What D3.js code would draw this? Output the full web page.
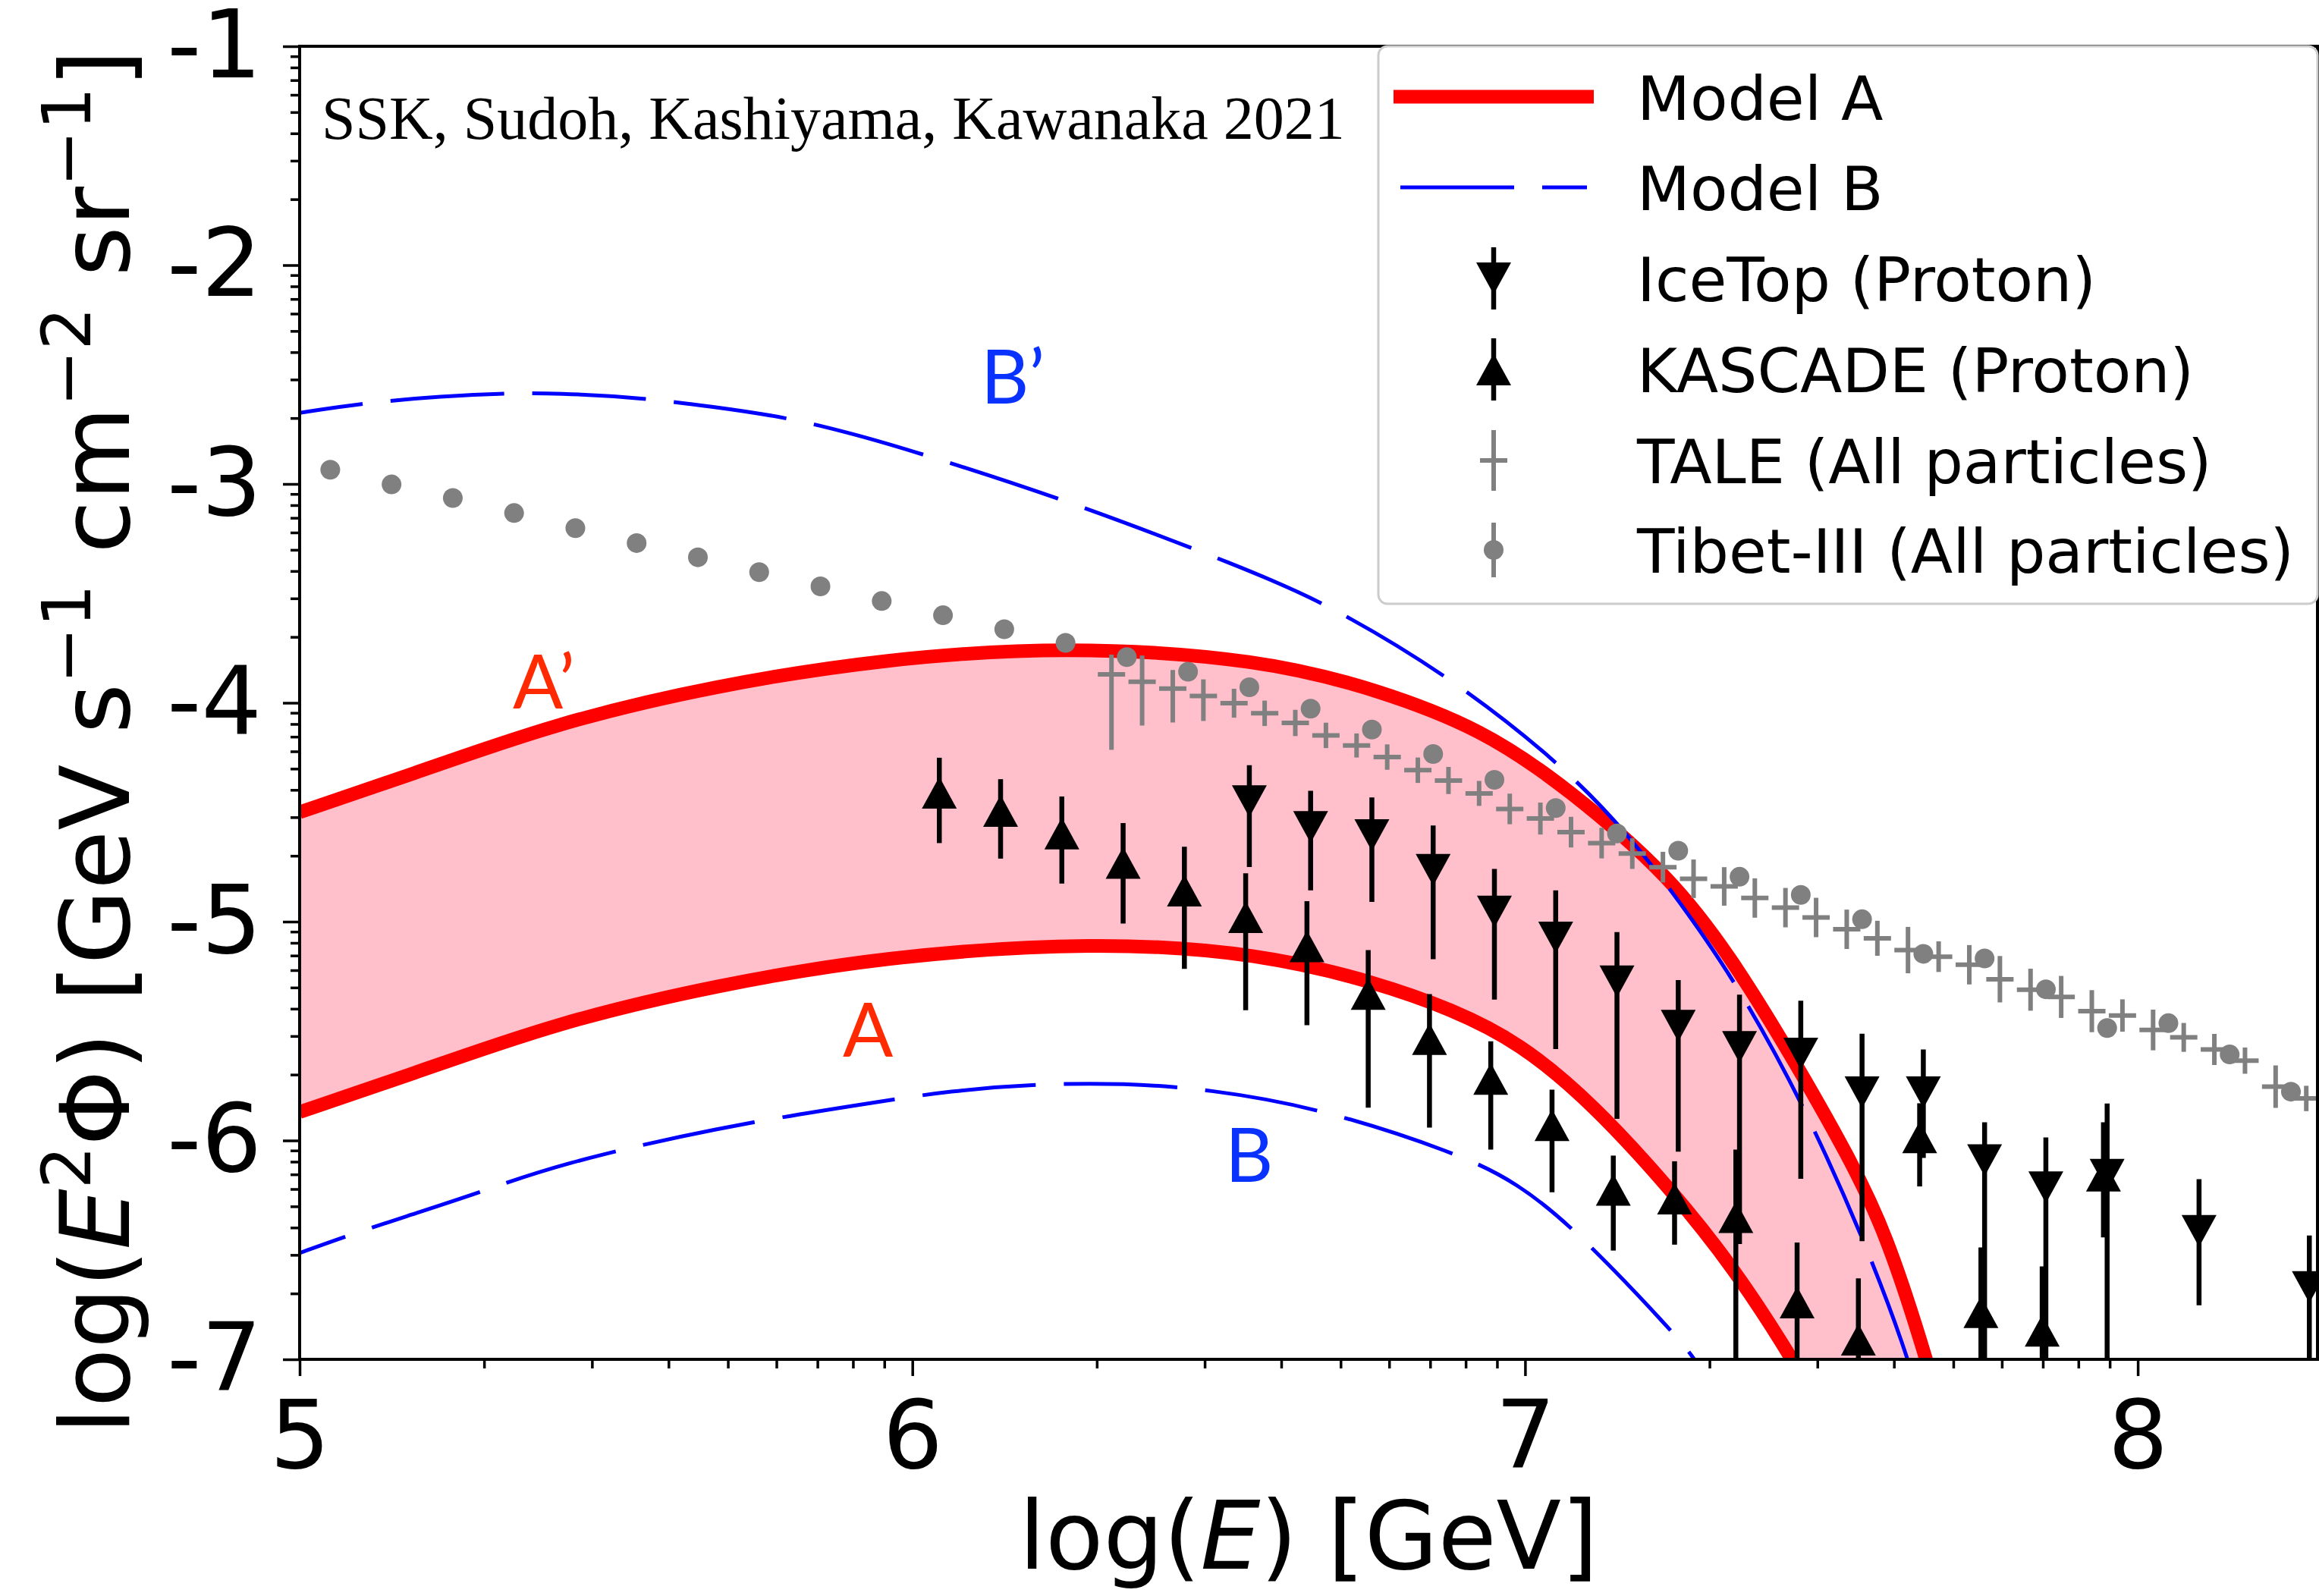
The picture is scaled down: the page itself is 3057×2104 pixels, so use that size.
<!DOCTYPE html>
<html>
<head>
<meta charset="utf-8">
<script src="https://cdn.jsdelivr.net/npm/d3@7"></script>
<style>
  body { margin: 0; background: #fff; }
  svg { display: block; }
  text { white-space: pre; }
</style>
</head>
<body>
<svg id="chart" width="3057" height="2104"></svg>
<script>
// ---------------- data ----------------
// Model A band: upper edge (A') and lower edge (A), log10(E2 Phi) vs log10(E/GeV)
const modelAUpperX = [5.0, 5.17, 5.42, 5.68, 5.95, 6.25, 6.57, 6.76, 6.93, 7.07, 7.24, 7.34, 7.43, 7.53, 7.59, 7.65, 7.68];
const modelAUpperY = [-4.50, -4.34, -4.09, -3.92, -3.80, -3.74, -3.80, -3.94, -4.12, -4.39, -4.80, -5.18, -5.59, -6.08, -6.43, -6.95, -7.25];
const modelALowerX = [5.0, 5.17, 5.42, 5.68, 5.95, 6.3, 6.57, 6.76, 6.88, 6.99, 7.11, 7.24, 7.34, 7.43, 7.46];
const modelALowerY = [-5.87, -5.71, -5.46, -5.29, -5.16, -5.09, -5.145, -5.28, -5.40, -5.55, -5.83, -6.23, -6.58, -6.97, -7.12];

// Model B: upper (B') and lower (B) curves
const modelBUpperX = [5.0, 5.108, 5.234, 5.335, 5.423, 5.55, 5.676, 5.796, 5.897, 5.972, 6.25, 6.543, 6.673, 6.874, 7.055, 7.167, 7.274, 7.356, 7.457, 7.558, 7.621, 7.64];
const modelBUpperY = [-2.675, -2.629, -2.599, -2.585, -2.585, -2.604, -2.647, -2.696, -2.767, -2.824, -3.07, -3.386, -3.541, -3.873, -4.27, -4.592, -4.99, -5.334, -5.848, -6.484, -6.96, -7.15];
const modelBLowerX = [5.0, 5.074, 5.17, 5.295, 5.42, 5.68, 5.935, 6.061, 6.206, 6.345, 6.484, 6.667, 6.888, 6.986, 7.084, 7.241, 7.274, 7.30];
const modelBLowerY = [-6.514, -6.439, -6.35, -6.237, -6.11, -5.94, -5.827, -5.773, -5.741, -5.738, -5.765, -5.853, -6.057, -6.19, -6.41, -6.874, -6.987, -7.1];

// IceTop (proton)
const iceTopX   = [6.55, 6.65, 6.75, 6.85, 6.95, 7.05, 7.15, 7.25, 7.35, 7.45, 7.55, 7.65, 7.75, 7.85, 7.95, 8.10, 8.28];
const iceTopY   = [-4.45, -4.568, -4.605, -4.763, -4.954, -5.073, -5.273, -5.476, -5.573, -5.603, -5.78, -5.78, -6.09, -6.214, -6.157, -6.413, -6.67];
const iceTopUp  = [0.165, 0.166, 0.173, 0.202, 0.195, 0.216, 0.225, 0.209, 0.239, 0.242, 0.268, 0.196, 0.173, 0.228, 0.326, 0.236, 0.236];
const iceTopDn  = [0.30, 0.289, 0.305, 0.409, 0.402, 0.509, 0.628, 0.575, 0.90, 0.572, 0.68, 0.30, 1.0, 1.0, 1.0, 0.34, 0.40];

// KASCADE (proton)
const kascadeX  = [6.044, 6.144, 6.244, 6.344, 6.444, 6.544, 6.644, 6.744, 6.844, 6.944, 7.044, 7.144, 7.244, 7.344, 7.444, 7.544, 7.644, 7.744, 7.844, 7.944];
const kascadeY  = [-4.411, -4.494, -4.597, -4.731, -4.858, -4.979, -5.113, -5.33, -5.536, -5.718, -5.93, -6.225, -6.265, -6.35, -6.74, -6.91, -5.985, -6.784, -6.869, -6.16];
const kascadeUp = [0.16, 0.145, 0.169, 0.182, 0.20, 0.20, 0.207, 0.20, 0.205, 0.171, 0.162, 0.156, 0.17, 0.308, 0.274, 0.28, 0.155, 0.295, 0.294, 0.243];
const kascadeDn = [0.23, 0.218, 0.229, 0.278, 0.358, 0.426, 0.36, 0.52, 0.405, 0.324, 0.307, 0.278, 0.211, 1.0, 1.0, 1.0, 0.225, 1.0, 1.0, 0.283];

// TALE (all particles)
const taleX  = [6.325, 6.375, 6.425, 6.475, 6.525, 6.575, 6.625, 6.675, 6.725, 6.775, 6.825, 6.875, 6.925, 6.975, 7.025, 7.075, 7.125, 7.175, 7.225, 7.275,
                7.325, 7.375, 7.425, 7.475, 7.525, 7.575, 7.625, 7.675, 7.725, 7.775, 7.825, 7.875, 7.925, 7.975, 8.025, 8.075, 8.125, 8.175, 8.225, 8.275];
const taleY  = [-3.870, -3.904, -3.935, -3.969, -4.002, -4.048, -4.092, -4.149, -4.195, -4.248, -4.308, -4.355, -4.414, -4.485, -4.529, -4.591, -4.641, -4.689, -4.751, -4.804,
                -4.839, -4.892, -4.936, -4.981, -5.035, -5.076, -5.13, -5.16, -5.197, -5.263, -5.311, -5.344, -5.409, -5.429, -5.495, -5.529, -5.584, -5.635, -5.754, -5.808];
const taleUp = [0.09, 0.12, 0.085, 0.076, 0.066, 0.058, 0.06, 0.058, 0.055, 0.058, 0.058, 0.062, 0.057, 0.07, 0.073, 0.07, 0.07, 0.07, 0.07, 0.088,
                0.088, 0.09, 0.09, 0.09, 0.09, 0.08, 0.106, 0.07, 0.09, 0.106, 0.096, 0.096, 0.096, 0.074, 0.093, 0.066, 0.071, 0.06, 0.097, 0.058];
const taleDn = [0.345, 0.20, 0.155, 0.114, 0.066, 0.058, 0.06, 0.058, 0.055, 0.058, 0.058, 0.062, 0.057, 0.07, 0.073, 0.07, 0.07, 0.07, 0.07, 0.088,
                0.088, 0.09, 0.09, 0.09, 0.09, 0.08, 0.106, 0.07, 0.09, 0.106, 0.096, 0.096, 0.096, 0.074, 0.093, 0.066, 0.071, 0.06, 0.097, 0.058];

// Tibet-III (all particles)
const tibetX = [5.05, 5.15, 5.25, 5.35, 5.45, 5.55, 5.65, 5.75, 5.85, 5.95, 6.05, 6.15, 6.25, 6.35, 6.45, 6.55, 6.65, 6.75, 6.85, 6.95, 7.05,
                7.15, 7.25, 7.35, 7.45, 7.55, 7.65, 7.75, 7.85, 7.95, 8.05, 8.15, 8.25];
const tibetY = [-2.935, -3.002, -3.064, -3.133, -3.202, -3.270, -3.335, -3.403, -3.468, -3.535, -3.600, -3.664, -3.726, -3.791, -3.858, -3.929, -4.027,
                -4.122, -4.234, -4.352, -4.481, -4.597, -4.676, -4.795, -4.878, -4.989, -5.147, -5.168, -5.309, -5.486, -5.464, -5.607, -5.777];

// axes ticks and labels
const xTicks = [5, 6, 7, 8];
const yTicks = [-7, -6, -5, -4, -3, -2, -1];
const legendLabels = ["Model A", "Model B", "IceTop (Proton)", "KASCADE (Proton)", "TALE (All particles)", "Tibet-III (All particles)"];
const creditText = "SSK, Sudoh, Kashiyama, Kawanaka 2021";

// ---------------- layout ----------------
const plot = { left: 395, right: 3055, top: 61, bottom: 1792 };
const x = d3.scaleLinear().domain([5, 8.2933]).range([plot.left, plot.right]);
const y = d3.scaleLinear().domain([-7, -1]).range([plot.bottom, plot.top]);

const RED = "#ff0000", BLUE = "#0000ff", GRAY = "#808080", PINK = "#ffc0cb";
const svg = d3.select("#chart");

svg.append("defs").append("clipPath").attr("id", "plotClip")
  .append("rect")
  .attr("x", plot.left).attr("y", plot.top)
  .attr("width", plot.right - plot.left).attr("height", plot.bottom - plot.top);

const zipXY = (xs, ys) => xs.map((v, i) => [v, ys[i]]);
// smoothing B-spline through the sampled model values
const line = d3.line().x(d => x(d[0])).y(d => y(d[1])).curve(d3.curveBasis);

const data = svg.append("g").attr("clip-path", "url(#plotClip)");

// shaded band between A' and A
const upperPts = zipXY(modelAUpperX, modelAUpperY);
const lowerPts = zipXY(modelALowerX, modelALowerY);
const bandPath = line(upperPts) + "L" + line(lowerPts.slice().reverse()).slice(1) + "Z";
data.append("path").attr("d", bandPath).attr("fill", PINK).attr("stroke", "none");

// Model A edges
[upperPts, lowerPts].forEach(pts => {
  data.append("path").attr("d", line(pts))
    .attr("fill", "none").attr("stroke", RED).attr("stroke-width", 18);
});

// Model B curves (dashed)
[[zipXY(modelBUpperX, modelBUpperY), 66], [zipXY(modelBLowerX, modelBLowerY), 86]].forEach(([pts, off]) => {
  data.append("path").attr("d", line(pts))
    .attr("fill", "none").attr("stroke", BLUE).attr("stroke-width", 5)
    .attr("stroke-dasharray", "150 37").attr("stroke-dashoffset", off);
});

// marker helpers
const TRI_W = 46, TRI_H = 42;
function triPath(up) {
  const w = TRI_W / 2, h = TRI_H / 2;
  return up ? `M0,${-h}L${w},${h}L${-w},${h}Z` : `M0,${h}L${w},${-h}L${-w},${-h}Z`;
}
function drawErrTriangles(g, xs, ys, ups, dns, up) {
  const grp = g.append("g");
  xs.forEach((xv, i) => {
    grp.append("line")
      .attr("x1", x(xv)).attr("x2", x(xv))
      .attr("y1", y(ys[i] + ups[i])).attr("y2", y(ys[i] - dns[i]))
      .attr("stroke", "#000").attr("stroke-width", 6.5);
  });
  xs.forEach((xv, i) => {
    grp.append("path").attr("d", triPath(up))
      .attr("transform", `translate(${x(xv)},${y(ys[i])})`)
      .attr("fill", "#000");
  });
}

drawErrTriangles(data, iceTopX, iceTopY, iceTopUp, iceTopDn, false);
drawErrTriangles(data, kascadeX, kascadeY, kascadeUp, kascadeDn, true);

// TALE crosses
const taleG = data.append("g").attr("stroke", GRAY).attr("stroke-width", 6);
taleX.forEach((xv, i) => {
  taleG.append("line").attr("x1", x(xv)).attr("x2", x(xv))
    .attr("y1", y(taleY[i] + taleUp[i])).attr("y2", y(taleY[i] - taleDn[i]));
  taleG.append("line").attr("x1", x(xv) - 18).attr("x2", x(xv) + 18)
    .attr("y1", y(taleY[i])).attr("y2", y(taleY[i]));
});

// Tibet-III dots
data.append("g").selectAll("circle").data(tibetX).join("circle")
  .attr("cx", d => x(d)).attr("cy", (d, i) => y(tibetY[i])).attr("r", 13).attr("fill", GRAY);

// ---------------- axes ----------------
const minorX = [], minorY = [];
for (let n = 5; n <= 8; n++) for (let k = 2; k <= 9; k++) { const v = n + Math.log10(k); if (v < 8.2933) minorX.push(v); }
for (let n = -7; n <= -2; n++) for (let k = 2; k <= 9; k++) minorY.push(n + Math.log10(k));

const styleAxis = g => {
  g.select(".domain").remove();
  g.attr("font-family", "DejaVu Sans").attr("font-size", 125);
  g.selectAll("line").attr("stroke", "#000").attr("stroke-width", 3.5);
  g.selectAll("text").attr("fill", "#000");
};

svg.append("g").attr("transform", `translate(${plot.left},0)`)
  .call(d3.axisLeft(y).tickValues(minorY).tickSize(12).tickFormat(""))
  .call(styleAxis);
svg.append("g").attr("transform", `translate(${plot.left},0)`)
  .call(d3.axisLeft(y).tickValues(yTicks).tickSize(22).tickPadding(28).tickFormat(d => String(d)))
  .call(styleAxis);
svg.append("g").attr("transform", `translate(0,${plot.bottom})`)
  .call(d3.axisBottom(x).tickValues(minorX).tickSize(12).tickFormat(""))
  .call(styleAxis);
svg.append("g").attr("transform", `translate(0,${plot.bottom})`)
  .call(d3.axisBottom(x).tickValues(xTicks).tickSize(22).tickPadding(32).tickFormat(d => String(d)))
  .call(styleAxis);

// frame
svg.append("rect")
  .attr("x", plot.left).attr("y", plot.top)
  .attr("width", plot.right - plot.left).attr("height", plot.bottom - plot.top)
  .attr("fill", "none").attr("stroke", "#000").attr("stroke-width", 4);

// axis titles
const xTitle = svg.append("text").attr("x", (plot.left + plot.right) / 2).attr("y", 2068)
  .attr("text-anchor", "middle").attr("font-family", "DejaVu Sans").attr("font-size", 125).attr("fill", "#000");
xTitle.append("tspan").text("log(");
xTitle.append("tspan").attr("font-style", "italic").text("E");
xTitle.append("tspan").text(") [GeV]");

const yTitleParts = [
  { t: "log(" }, { t: "E", it: true }, { t: "2", sup: true }, { t: "Φ) [GeV s" }, { t: "−1", sup: true },
  { t: " cm" }, { t: "−2", sup: true }, { t: " sr" }, { t: "−1", sup: true }, { t: "]" }
];
const yTitle = svg.append("text").attr("transform", "translate(170,978) rotate(-90)")
  .attr("text-anchor", "middle").attr("font-family", "DejaVu Sans").attr("font-size", 127).attr("fill", "#000");
let raised = false;
yTitleParts.forEach(p => {
  const ts = yTitle.append("tspan").text(p.t);
  if (p.it) ts.attr("font-style", "italic");
  if (p.sup) { ts.attr("font-size", 89).attr("dy", raised ? 0 : -51); raised = true; }
  else if (raised) { ts.attr("dy", 51); raised = false; }
});

// in-plot annotations
svg.append("text").attr("x", 424).attr("y", 183)
  .attr("font-family", "Liberation Serif").attr("font-size", 80).attr("fill", "#000").text(creditText);

const curveLabels = [
  { t: "A’", x: 676, y: 934, c: "#ff2a00" },
  { t: "A", x: 1111, y: 1393, c: "#ff2a00" },
  { t: "B’", x: 1293, y: 532, c: "#0a32ff" },
  { t: "B", x: 1615, y: 1558, c: "#0a32ff" }
];
svg.append("g").selectAll("text").data(curveLabels).join("text")
  .attr("x", d => d.x).attr("y", d => d.y).attr("fill", d => d.c)
  .attr("font-family", "Lato").attr("font-size", 98).text(d => d.t);

// ---------------- legend ----------------
const lg = svg.append("g");
lg.append("rect").attr("x", 1817).attr("y", 61).attr("width", 1238).attr("height", 735).attr("rx", 12)
  .attr("fill", "#fff").attr("stroke", "#cccccc").attr("stroke-width", 3);

const rowY = [127.5, 247, 367, 487, 607, 725];
const hx0 = 1846, hx1 = 2092, hxc = 1969;

lg.append("line").attr("x1", hx0).attr("x2", hx1).attr("y1", rowY[0]).attr("y2", rowY[0])
  .attr("stroke", RED).attr("stroke-width", 18).attr("stroke-linecap", "square");
lg.append("line").attr("x1", hx0).attr("x2", hx1).attr("y1", rowY[1]).attr("y2", rowY[1])
  .attr("stroke", BLUE).attr("stroke-width", 5).attr("stroke-dasharray", "150 37");

[[rowY[2], false], [rowY[3], true]].forEach(([ry, up]) => {
  lg.append("line").attr("x1", hxc).attr("x2", hxc).attr("y1", ry - 41).attr("y2", ry + 41)
    .attr("stroke", "#000").attr("stroke-width", 6.5);
  lg.append("path").attr("d", triPath(up)).attr("transform", `translate(${hxc},${ry})`).attr("fill", "#000");
});
lg.append("line").attr("x1", hxc).attr("x2", hxc).attr("y1", rowY[4] - 40).attr("y2", rowY[4] + 40)
  .attr("stroke", GRAY).attr("stroke-width", 6);
lg.append("line").attr("x1", hxc - 18).attr("x2", hxc + 18).attr("y1", rowY[4]).attr("y2", rowY[4])
  .attr("stroke", GRAY).attr("stroke-width", 6);
lg.append("line").attr("x1", hxc).attr("x2", hxc).attr("y1", rowY[5] - 36).attr("y2", rowY[5] + 36)
  .attr("stroke", GRAY).attr("stroke-width", 6);
lg.append("circle").attr("cx", hxc).attr("cy", rowY[5]).attr("r", 13).attr("fill", GRAY);

lg.selectAll("text.lbl").data(legendLabels).join("text").attr("class", "lbl")
  .attr("x", 2158).attr("y", (d, i) => rowY[i] + 30)
  .attr("font-family", "DejaVu Sans").attr("font-size", 81).attr("fill", "#000").text(d => d);
</script>
</body>
</html>
